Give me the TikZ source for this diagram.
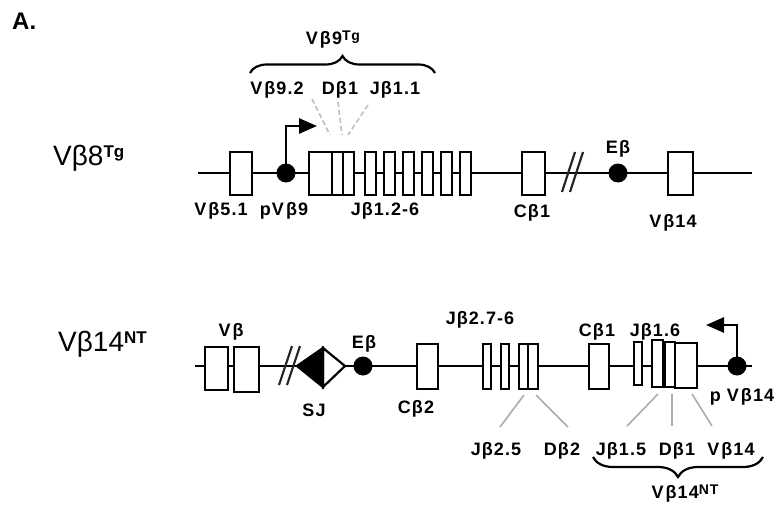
\documentclass[tikz,border=0pt]{standalone}
\usepackage{fontspec}
\setmainfont{Liberation Sans}
\newfontfamily\lblfont{Liberation Sans}[LetterSpace=6]
\usetikzlibrary{arrows.meta,decorations.pathreplacing}
\newcommand\Vb{{V\kern2pt}β}
\newcommand\exonbox[5]{\node[exon,minimum width={(#3-#2)*1pt},minimum height={(#5-#4)*1pt}] (#1) at ({(#2+#3)/2},{(#4+#5)/2}) {};}
\tikzset{
 backbone/.style={line width=2.6pt},
 exon/.style={draw,line width=2.6pt,fill=white,inner sep=0pt,outer sep=0pt},
 dotnode/.style={circle,fill=black,minimum size=19pt,inner sep=0pt},
 lbl/.style={font=\lblfont\bfseries\fontsize{18}{18}\selectfont,inner sep=0pt,anchor=base},
 big/.style={font=\fontsize{28}{28}\selectfont,inner sep=0pt,anchor=base west},
 guide/.style={gray!50,line width=1.6pt,dash pattern=on 5pt off 3pt},
 leader/.style={gray!65,line width=1.6pt},
 slash/.style={line width=2.2pt,black!85},
 brc/.style={decorate,decoration={brace,amplitude=#1},line width=2.2pt},
 arr/.style={line width=2.6pt,line join=miter,-{Triangle[length=18pt,width=15pt]}},
}
\newcommand\supsm[1]{\raisebox{4pt}{\fontsize{14}{14}\selectfont #1}}
\begin{document}
\begin{tikzpicture}[x=1pt,y=-1pt]
\useasboundingbox (0,0) rectangle (778,508);
\node[font=\bfseries\fontsize{24}{24}\selectfont,inner sep=0pt,anchor=base west] (A) at (12,30) {A.};
% ---------- top locus
\node[big] (tgname) at (53,165) {Vβ8\raisebox{8pt}{\fontsize{17}{17}\selectfont\bfseries Tg}};
\coordinate (ta) at (198,173);
\coordinate (tb) at (752,173);
\draw[backbone] (ta) -- (tb);
\exonbox{v51}{230}{252}{152}{195}
\exonbox{j1}{309}{332}{152}{195}
\exonbox{j2}{332}{343}{152}{195}
\exonbox{j3}{343}{354}{152}{195}
\exonbox{n1}{365}{376}{152}{195}
\exonbox{n2}{384}{395}{152}{195}
\exonbox{n3}{403}{414}{152}{195}
\exonbox{n4}{422}{433}{152}{195}
\exonbox{n5}{441}{452}{152}{195}
\exonbox{n6}{460}{471}{152}{195}
\exonbox{tc1}{522}{545}{152}{195}
\exonbox{tv14}{668}{693}{152}{195}
\node[dotnode] (p9) at (286,173) {};
\node[dotnode] (teb) at (618,173) {};
\coordinate (tarr) at (317,126);
\draw[arr] (p9.center) |- (tarr);
\draw[slash] (562,192) -- (575,152);
\draw[slash] (570,192) -- (583,152);
\node[lbl] (l51) at (221,215) {\Vb5.1};
\node[lbl] (lp9) at (284,215) {p\Vb9};
\node[lbl] (lj126) at (385,215) {Jβ1.2-6};
\node[lbl] (ltc1) at (532,217) {Cβ1};
\node[lbl] (ltv14) at (673,227) {\Vb14};
\node[lbl] (lteb) at (618,153) {Eβ};
\node[lbl] (l92) at (277,95) {\Vb9.2};
\node[lbl] (ld1) at (340,95) {Dβ1};
\node[lbl] (lj11) at (395,95) {Jβ1.1};
\node[lbl] (l9tg) at (333,45) {\Vb9\supsm{Tg}};
\draw[brc=17pt] (250,73) -- (435,73);
\coordinate (g1a) at (312,99); \coordinate (g1b) at (330,135);
\coordinate (g2a) at (338,102); \coordinate (g2b) at (342,135);
\coordinate (g3a) at (368,105); \coordinate (g3b) at (348,135);
\draw[guide] (g1a) -- (g1b);
\draw[guide] (g2a) -- (g2b);
\draw[guide] (g3a) -- (g3b);
% ---------- bottom locus
\node[big] (ntname) at (58,351) {Vβ14\raisebox{8pt}{\fontsize{17}{17}\selectfont\bfseries NT}};
\coordinate (ba) at (195,366);
\coordinate (bb) at (752,366);
\draw[backbone] (ba) -- (bb);
\exonbox{vb1}{205}{228}{347}{390}
\exonbox{vb2}{234}{259}{347}{392}
\draw[slash] (279,385) -- (292,346);
\draw[slash] (287,385) -- (300,346);
\coordinate (rss) at (323,366);
\fill (297,366) -- (323,348) -- (323,387) -- cycle;
\draw[line width=2.2pt,line join=miter,fill=white] (323,348) -- (345,366) -- (323,387) -- cycle;
\draw[line width=2.2pt] (297,366) -- (323,348) -- (323,387) -- cycle;
\node[dotnode] (beb) at (363,366) {};
\exonbox{cb2}{417}{438}{344}{389}
\exonbox{k1}{483}{491}{344}{389}
\exonbox{k2}{501}{509}{344}{389}
\exonbox{k3}{519}{528}{344}{389}
\exonbox{k4}{528}{538}{344}{389}
\exonbox{bc1}{589}{609}{344}{389}
\exonbox{m1}{634}{642}{342}{385}
\exonbox{m2}{652}{663}{340}{387}
\exonbox{m3}{665}{675}{342}{387}
\exonbox{m4}{675}{697}{343}{388}
\node[dotnode] (pv14) at (737,366) {};
\coordinate (barr) at (706,325);
\draw[arr] (pv14.center) |- (barr);
\node[lbl] (lvb) at (231,336) {\Vb};
\node[lbl] (lbeb) at (364,348) {Eβ};
\node[lbl] (lsj) at (314,416) {SJ};
\node[lbl] (lcb2) at (416,413) {Cβ2};
\node[lbl] (lj276) at (480,324) {Jβ2.7-6};
\node[lbl] (lbc1) at (597,336) {Cβ1};
\node[lbl] (lj16) at (655,336) {Jβ1.6};
\node[lbl] (lpv14) at (742,401) {p \Vb14};
\node[lbl] (lj25) at (496,455) {Jβ2.5};
\node[lbl] (ld2) at (562,455) {Dβ2};
\node[lbl] (lj15) at (621,455) {Jβ1.5};
\node[lbl] (lbd1) at (677,455) {Dβ1};
\node[lbl] (lbv14) at (731,455) {\Vb14};
\node[lbl] (lnt) at (685,498) {\Vb14\supsm{NT}};
\draw[brc=20pt] (763,457) -- (593,457);
\coordinate (h1a) at (524,395); \coordinate (h1b) at (500,427);
\coordinate (h2a) at (536,395); \coordinate (h2b) at (568,427);
\coordinate (h3a) at (658,394); \coordinate (h3b) at (627,426);
\coordinate (h4a) at (672,394); \coordinate (h4b) at (672,426);
\coordinate (h5a) at (692,394); \coordinate (h5b) at (712,426);
\draw[leader] (h1a) -- (h1b);
\draw[leader] (h2a) -- (h2b);
\draw[leader] (h3a) -- (h3b);
\draw[leader] (h4a) -- (h4b);
\draw[leader] (h5a) -- (h5b);
\end{tikzpicture}
\end{document}
